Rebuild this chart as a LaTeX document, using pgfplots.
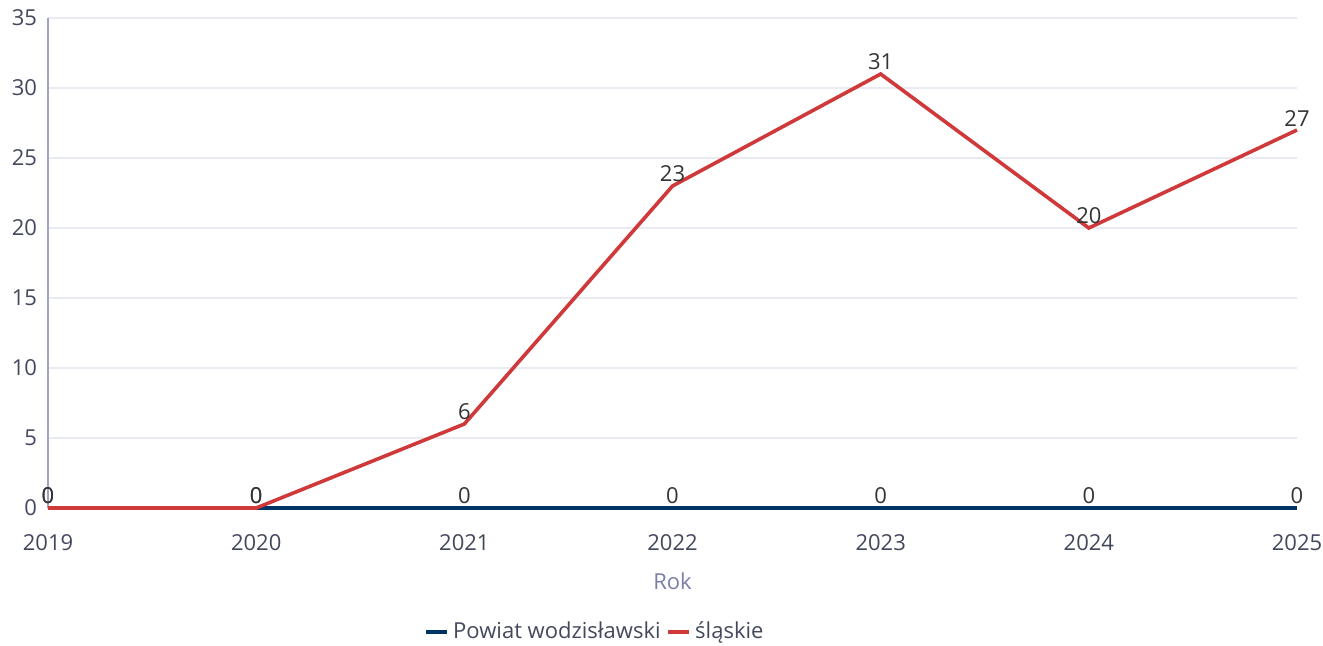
\documentclass[border=0pt]{standalone}
\usepackage{fontspec}
\setmainfont{Open Sans}
\usepackage{pgfplots}
\pgfplotsset{compat=1.18}
\definecolor{redline}{RGB}{207,57,58}
\definecolor{blueline}{RGB}{0,51,102}
\definecolor{ticktxt}{RGB}{68,72,92}
\definecolor{axtitle}{RGB}{123,126,168}
\definecolor{axline}{RGB}{160,163,200}
\definecolor{gridc}{RGB}{234,234,242}
\definecolor{lbl}{RGB}{51,51,51}
\begin{document}
\begin{tikzpicture}
\useasboundingbox (-24pt,-68.5pt) rectangle (637.5pt,254pt);
\begin{axis}[
    scale only axis,
    width=624.5pt,
    height=245pt,
    xmin=2019, xmax=2025,
    ymin=0, ymax=35,
    xtick={2019,2020,2021,2022,2023,2024,2025},
    ytick={0,5,10,15,20,25,30,35},
    axis lines*=left,
    axis line style={axline, line width=0.6pt},
    major tick length=0pt,
    ymajorgrids,
    grid style={gridc, line width=0.6pt},
    font=\fontsize{11}{13}\selectfont,
    /pgf/number format/assume math mode=true,
    /pgf/number format/1000 sep={},
    ticklabel style={ticktxt},
    xticklabel style={yshift=-9.5pt},
    yticklabel style={xshift=-2pt},
    xlabel={Rok},
    xlabel style={axtitle, at={(axis description cs:0.5,-0.149)}, anchor=center},
    legend columns=2,
    legend style={draw=none, fill=none, at={(axis description cs:0.4388,-0.253)}, anchor=center,
        font=\fontsize{11}{13}\selectfont, text=ticktxt,
        /tikz/every even column/.append style={column sep=1pt}},
    legend image code/.code={\draw[#1, line width=1.8pt] (0pt,0pt) -- (10.5pt,0pt);},
    nodes near coords,
    every node near coord/.append style={lbl, inner sep=1pt, font=\fontsize{11}{13}\selectfont},
    clip=false,
]
\addplot[blueline, line width=1.8pt] coordinates {
    (2019,0) (2020,0) (2021,0) (2022,0) (2023,0) (2024,0) (2025,0)
};
\addlegendentry{Powiat wodzisławski}
\addplot[redline, line width=1.8pt] coordinates {
    (2019,0) (2020,0) (2021,6) (2022,23) (2023,31) (2024,20) (2025,27)
};
\addlegendentry{śląskie}
\end{axis}
\end{tikzpicture}
\end{document}
